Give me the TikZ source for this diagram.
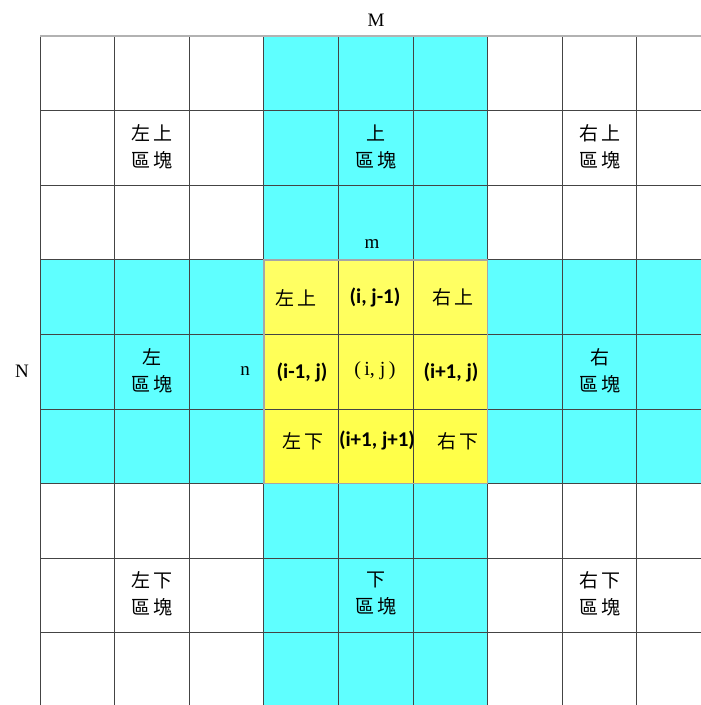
\documentclass[tikz,border=0pt]{standalone}
\usepackage{fontspec}
\setmainfont{Liberation Serif}
\newfontfamily\cjkfont{Noto Sans CJK TC}
\newfontfamily\labfont{Carlito}
\definecolor{cyanfill}{HTML}{5FFFFF}
\definecolor{yeltop}{HTML}{FFFF66}
\definecolor{yelbot}{HTML}{FFFF44}
\definecolor{gridline}{HTML}{444444}
\newcommand{\cjsp}{\hspace{3pt}}
\tikzset{
  cjk/.style={font=\cjkfont\fontsize{19}{27}\selectfont, align=center, inner sep=0pt},
  lab/.style={font=\labfont\bfseries\fontsize{21}{22}\selectfont, inner sep=0pt},
  serif/.style={font=\fontsize{19}{20}\selectfont, inner sep=0pt},
}
\begin{document}
\begin{tikzpicture}[x=1pt,y=-1pt]
\useasboundingbox (0,0) rectangle (701,705);
\def\cs{74.6}
% cyan bands
\fill[cyanfill] (263.8,36) rectangle (487.6,705);
\fill[cyanfill] (40,259.8) rectangle (701,483.6);
% yellow center
\shade[top color=yeltop, bottom color=yelbot] (263.8,259.8) rectangle (487.6,483.6);
% grid
\begin{scope}
\clip (0,0) rectangle (701,705);
\foreach \k in {0,...,8} {
  \draw[gridline, line width=1pt] ({40+\k*\cs},36) -- ({40+\k*\cs},705);
}
\foreach \k in {0,...,8} {
  \draw[gridline, line width=1pt] (40,{36+\k*\cs}) -- (701,{36+\k*\cs});
}
\draw[gray!60, line width=1.3pt] (40,36) -- (701,36);
\draw[gray!70, line width=1.6pt] (263.8,259.8) rectangle (487.6,483.6);
\end{scope}
% outer labels
\node[serif] (M) at (376,20) {M};
\node[serif] (N) at (22,371) {N};
\node[serif] (m) at (372,244) {m};
\node[serif] (n) at (245,371) {n};
% blocks
\node[cjk] (ul) at (152,147) {左\cjsp 上\\區\cjsp 塊};
\node[cjk] (u) at (376,147) {上\\區\cjsp 塊};
\node[cjk] (ur) at (600,147) {右\cjsp 上\\區\cjsp 塊};
\node[cjk] (l) at (152,371) {左\\區\cjsp 塊};
\node[cjk] (r) at (600,371) {右\\區\cjsp 塊};
\node[cjk] (dl) at (152,594) {左\cjsp 下\\區\cjsp 塊};
\node[cjk] (d) at (376,594) {下\\區\cjsp 塊};
\node[cjk] (dr) at (600,594) {右\cjsp 下\\區\cjsp 塊};
% center cells
\node[cjk] (cul) at (296,298) {左\cjsp 上};
\node[lab] (cu) at (375,297) {(i, j-1)};
\node[cjk] (cur) at (453,297) {右\cjsp 上};
\node[lab] (cl) at (302,372) {(i-1, j)};
\node[serif, font=\fontsize{20}{20}\selectfont] (cc) at (375,371) {(\,i, j\,)};
\node[lab] (cr) at (451,372) {(i+1, j)};
\node[cjk] (cdl) at (303,441) {左\cjsp 下};
\node[lab] (cd) at (377,440) {(i+1, j+1)};
\node[cjk] (cdr) at (458,441) {右\cjsp 下};
\end{tikzpicture}
\end{document}
